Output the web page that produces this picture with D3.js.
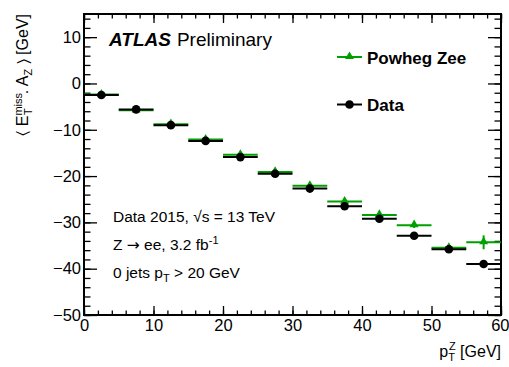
<!DOCTYPE html>
<html>
<head>
<meta charset="utf-8">
<script src="https://cdn.jsdelivr.net/npm/d3@7"></script>
<style>
body { margin: 0; background: #fff; }
svg text { font-family: "Liberation Sans", Arial, Helvetica, sans-serif; fill: #000; }
</style>
</head>
<body>
<div id="chart"></div>
<script>
var width = 509, height = 367;
var margin = {top: 14, right: 8, bottom: 52, left: 84};

// bin centres of p_T^Z [GeV], 5 GeV wide
const ptBins = [2.5, 7.5, 12.5, 17.5, 22.5, 27.5, 32.5, 37.5, 42.5, 47.5, 52.5, 57.5];
const binHalfWidth = 2.5;
const dataValues = [-2.5, -5.6, -9.0, -12.4, -15.9, -19.5, -22.7, -26.5, -29.2, -32.9, -35.8, -39.0];
const dataErrors = [0.2, 0.2, 0.2, 0.2, 0.2, 0.25, 0.3, 0.3, 0.35, 0.4, 0.5, 0.7];
const powhegValues = [-2.4, -5.8, -8.8, -12.1, -15.4, -19.1, -22.1, -25.5, -28.4, -30.6, -35.5, -34.3];
const powhegErrors = [0.2, 0.2, 0.2, 0.3, 0.3, 0.3, 0.4, 0.4, 0.5, 0.6, 0.7, 1.5];
const xTicks = [0, 10, 20, 30, 40, 50, 60];
const yTicks = [-50, -40, -30, -20, -10, 0, 10];
const xMinor = d3.range(0, 61, 2);
const yMinor = d3.range(-50, 16, 2);

const green = "#00a000";

const svg = d3.select("#chart").append("svg")
    .attr("width", width)
    .attr("height", height);

const pw = width - margin.left - margin.right; // 417
const ph = height - margin.top - margin.bottom;

const x = d3.scaleLinear().domain([0, 60]).range([margin.left, margin.left + pw]);
const y = d3.scaleLinear().domain([-50, 15]).range([margin.top + ph, margin.top]);

const fmt = d => d3.format("d")(d);

// axes, ticks pointing inside like ROOT
function drawAxis(axis, transform, labels) {
  const g = svg.append("g").attr("transform", transform).call(axis);
  g.select(".domain").remove();
  g.selectAll("line").attr("stroke", "#000").attr("stroke-width", 1.3);
  g.selectAll("text").style("font-size", "16.5px").attr("font-family", null);
  if (!labels) g.selectAll("text").remove();
  return g;
}

const xAxisG = drawAxis(d3.axisBottom(x).tickValues(xTicks).tickSize(-9).tickPadding(4).tickFormat(fmt),
  "translate(0," + (margin.top + ph) + ")", true);
// last label sits at the window edge: keep it inside
xAxisG.selectAll("text").filter(d => d === 60)
  .attr("text-anchor", "end").attr("x", width - x(60));
drawAxis(d3.axisBottom(x).tickValues(xMinor).tickSize(-4.5).tickFormat(""),
  "translate(0," + (margin.top + ph) + ")", false);
drawAxis(d3.axisTop(x).tickValues(xTicks).tickSize(-9).tickFormat(""),
  "translate(0," + margin.top + ")", false);
drawAxis(d3.axisTop(x).tickValues(xMinor).tickSize(-4.5).tickFormat(""),
  "translate(0," + margin.top + ")", false);

drawAxis(d3.axisLeft(y).tickValues(yTicks).tickSize(-13).tickPadding(3).tickFormat(fmt),
  "translate(" + margin.left + ",0)", true);
drawAxis(d3.axisLeft(y).tickValues(yMinor).tickSize(-6.5).tickFormat(""),
  "translate(" + margin.left + ",0)", false);
drawAxis(d3.axisRight(y).tickValues(yTicks).tickSize(-13).tickFormat(""),
  "translate(" + (margin.left + pw) + ",0)", false);
drawAxis(d3.axisRight(y).tickValues(yMinor).tickSize(-6.5).tickFormat(""),
  "translate(" + (margin.left + pw) + ",0)", false);

svg.append("rect")
    .attr("x", margin.left).attr("y", margin.top)
    .attr("width", pw).attr("height", ph)
    .attr("fill", "none").attr("stroke", "#000").attr("stroke-width", 2);

svg.append("clipPath").attr("id", "clip")
  .append("rect").attr("x", margin.left).attr("y", margin.top)
  .attr("width", pw).attr("height", ph);

const plot = svg.append("g").attr("clip-path", "url(#clip)");

const tri = d3.symbol().type(d3.symbolTriangle).size(34);

function drawSeries(values, errors, colour, marker) {
  const g = plot.append("g");
  const pts = ptBins.map((c, i) => ({c: c, v: values[i], e: errors[i]}));
  g.selectAll(".hbar").data(pts).join("line")
    .attr("x1", d => x(d.c - binHalfWidth)).attr("x2", d => x(d.c + binHalfWidth))
    .attr("y1", d => y(d.v)).attr("y2", d => y(d.v))
    .attr("stroke", colour).attr("stroke-width", 2);
  g.selectAll(".vbar").data(pts).join("line")
    .attr("x1", d => x(d.c)).attr("x2", d => x(d.c))
    .attr("y1", d => y(d.v - d.e)).attr("y2", d => y(d.v + d.e))
    .attr("stroke", colour).attr("stroke-width", 2);
  if (marker === "circle") {
    g.selectAll("circle").data(pts).join("circle")
      .attr("cx", d => x(d.c)).attr("cy", d => y(d.v)).attr("r", 4.3)
      .attr("fill", colour);
  } else {
    g.selectAll("path").data(pts).join("path")
      .attr("d", tri)
      .attr("transform", d => "translate(" + x(d.c) + "," + (y(d.v) - 0.5) + ")")
      .attr("fill", colour);
  }
}

drawSeries(powhegValues, powhegErrors, green, "triangle");
drawSeries(dataValues, dataErrors, "#000", "circle");

// legend
function legendEntry(yy, colour, marker, label) {
  svg.append("line").attr("x1", 337).attr("x2", 362).attr("y1", yy).attr("y2", yy)
    .attr("stroke", colour).attr("stroke-width", 2);
  if (marker === "circle") {
    svg.append("circle").attr("cx", 349.5).attr("cy", yy).attr("r", 4.3).attr("fill", colour);
  } else {
    svg.append("path").attr("d", tri).attr("transform", "translate(349.5," + (yy - 0.5) + ")")
      .attr("fill", colour);
  }
  svg.append("text").attr("x", 367).attr("y", yy + 6.5)
    .style("font-size", "17px").style("font-weight", "bold").text(label);
}
legendEntry(57, green, "triangle", "Powheg Zee");
legendEntry(104.5, "#000", "circle", "Data");

// ATLAS label
const atlas = svg.append("text").attr("x", 109).attr("y", 46).style("font-size", "19px");
atlas.append("tspan").style("font-weight", "bold").style("font-style", "italic").text("ATLAS");
atlas.append("tspan").attr("dx", 6).text("Preliminary");

// info text
const info = svg.append("g").style("font-size", "15.5px");
info.append("text").attr("x", 113).attr("y", 221.5).text("Data 2015, \u221As = 13 TeV");
const l2 = info.append("text").attr("x", 113).attr("y", 250);
l2.append("tspan").text("Z ");
l2.append("tspan").style("font-family", "'DejaVu Sans'").text("\u2192");
l2.append("tspan").text(" ee, 3.2 fb");
l2.append("tspan").attr("dy", -6).style("font-size", "11px").text("-1");
const l3 = info.append("text").attr("x", 113).attr("y", 278);
l3.append("tspan").text("0 jets p");
l3.append("tspan").attr("dy", 4).style("font-size", "11px").text("T");
l3.append("tspan").attr("dy", -4).text(" > 20 GeV");

// x axis title
const xt = svg.append("text").attr("x", margin.left + pw).attr("y", 357)
    .attr("text-anchor", "end").style("font-size", "16px");
xt.append("tspan").text("p");
xt.append("tspan").attr("dy", 4).style("font-size", "11px").text("T");
xt.append("tspan").attr("dx", -6).attr("dy", -11).style("font-size", "11px").text("Z");
xt.append("tspan").attr("dy", 7).text(" [GeV]");

// y axis title
const yt = svg.append("text")
    .attr("transform", "translate(28," + margin.top + ") rotate(-90)")
    .attr("text-anchor", "end").style("font-size", "16px");
yt.append("tspan").text("\u2329 E");
yt.append("tspan").attr("dy", -6).style("font-size", "11px").text("miss");
yt.append("tspan").attr("dx", -22).attr("dy", 10).style("font-size", "11px").text("T");
yt.append("tspan").attr("dx", 14).attr("dy", -4).text(". A");
yt.append("tspan").attr("dy", 4).style("font-size", "11px").text("Z");
yt.append("tspan").attr("dy", -4).text(" \u232A [GeV]");
</script>
</body>
</html>
